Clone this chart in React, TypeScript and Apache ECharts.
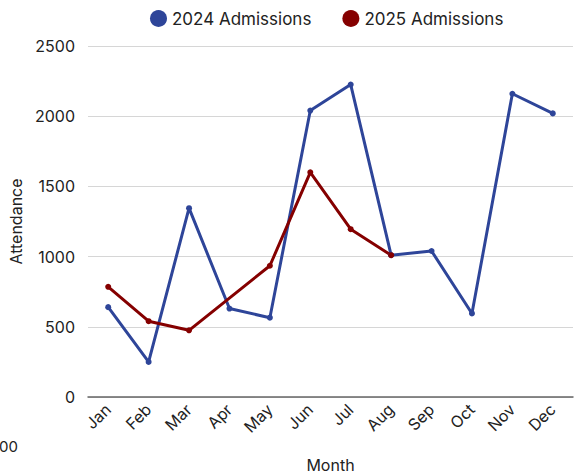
import React, { useEffect, useRef } from "react";
import * as echarts from "echarts";

const months = ["Jan", "Feb", "Mar", "Apr", "May", "Jun", "Jul", "Aug", "Sep", "Oct", "Nov", "Dec"];
const admissions2024 = [640, 250, 1345, 630, 565, 2040, 2225, 1010, 1040, 595, 2160, 2020];
const admissions2025: (number | null)[] = [785, 540, 475, null, 935, 1600, 1195, 1010, null, null, null, null];
const yTicks = { min: 0, max: 2500, interval: 500 };

const FONT = "Inter, 'Noto Sans', sans-serif";

export default function App() {
  const ref = useRef<HTMLDivElement>(null);
  useEffect(() => {
    if (!ref.current) return;
    const chart = echarts.init(ref.current, undefined, { renderer: "svg" });
    chart.setOption({
      animation: false,
      textStyle: { fontFamily: FONT },
      legend: {
        top: 5,
        left: 145,
        icon: "circle",
        itemWidth: 17,
        itemHeight: 17,
        itemGap: 31,
        textStyle: { fontSize: 17, color: "#222", fontFamily: FONT },
        data: ["2024 Admissions", "2025 Admissions"],
      },
      grid: { left: 88, right: 4, top: 46, bottom: 75, containLabel: false, outerBoundsMode: "none" },
      xAxis: {
        type: "category",
        data: months,
        boundaryGap: true,
        name: "Month",
        nameLocation: "middle",
        nameGap: 60,
        nameTextStyle: { fontSize: 16, color: "#222", fontFamily: FONT },
        axisLine: { lineStyle: { color: "#666", width: 1.5 } },
        axisTick: { show: false },
        axisLabel: { rotate: 45, fontSize: 16, color: "#222", margin: 10, interval: 0, fontFamily: FONT },
      },
      yAxis: {
        type: "value",
        min: yTicks.min,
        max: yTicks.max,
        interval: yTicks.interval,
        name: "Attendance",
        nameLocation: "middle",
        nameGap: 64,
        nameTextStyle: { fontSize: 16, color: "#222", fontFamily: FONT },
        axisLine: { show: false },
        axisTick: { show: false },
        axisLabel: {
          fontSize: 16,
          color: "#222",
          margin: 13,
          fontFamily: FONT,
          formatter: (v: number) => String(v),
        },
        splitLine: { lineStyle: { color: "#d6d6d6", width: 1.2 } },
      },
      graphic: [
        {
          type: "text",
          left: -1,
          top: 439,
          style: { text: "00", fontSize: 15, fill: "#222", fontFamily: FONT },
        },
      ],
      series: [
        {
          name: "2024 Admissions",
          type: "line",
          data: admissions2024,
          symbol: "circle",
          symbolSize: 6,
          lineStyle: { color: "#2E4599", width: 3 },
          itemStyle: { color: "#2E4599" },
        },
        {
          name: "2025 Admissions",
          type: "line",
          data: admissions2025,
          connectNulls: true,
          symbol: "circle",
          symbolSize: 6,
          lineStyle: { color: "#850000", width: 3 },
          itemStyle: { color: "#850000" },
        },
      ],
    });
    return () => chart.dispose();
  }, []);
  return <div ref={ref} style={{ width: 577, height: 472, position: "absolute", left: 0, top: 0 }} />;
}
